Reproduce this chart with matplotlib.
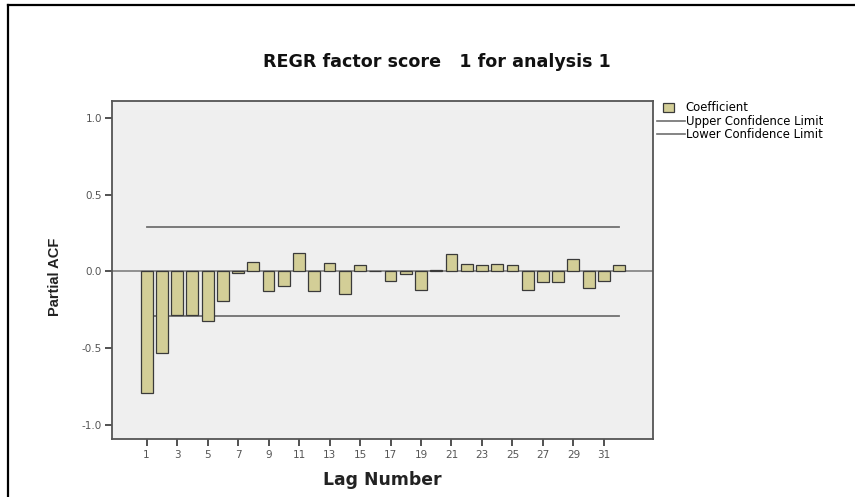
import numpy as np
import matplotlib
matplotlib.use("Agg")
import matplotlib.pyplot as plt
from matplotlib.patches import Patch
from matplotlib.lines import Line2D

# 数据
lags = list(range(1, 33))
pacf = [-0.795, -0.534, -0.284, -0.284, -0.326, -0.195, -0.013, 0.059,
        -0.130, -0.098, 0.122, -0.130, 0.057, -0.150, 0.044, 0.005,
        -0.061, -0.015, -0.124, 0.006, 0.115, 0.050, 0.040, 0.045,
        0.043, -0.121, -0.067, -0.068, 0.081, -0.106, -0.062, 0.042]
upper_limit = 0.29
lower_limit = -0.29
x_ticks = list(range(1, 32, 2))
y_ticks = [-1.0, -0.5, 0.0, 0.5, 1.0]
title = "REGR factor score   1 for analysis 1"

plt.rcParams['font.family'] = ['DejaVu Sans']

fig = plt.figure(figsize=(8.55, 4.97), dpi=100)
ax = fig.add_axes([0.1308, 0.1177, 0.6326, 0.6791])
ax.set_facecolor('#efefef')

ax.bar(lags, pacf, width=0.78, color='#d3ce97', edgecolor='#3a3a3a', linewidth=0.9, zorder=3)
ax.axhline(0, color='#808080', linewidth=1.2, zorder=2)
ax.plot([lags[0], lags[-1]], [upper_limit, upper_limit], color='#707070', linewidth=1.3, zorder=2)
ax.plot([lags[0], lags[-1]], [lower_limit, lower_limit], color='#707070', linewidth=1.3, zorder=2)

ax.set_xlim(-1.28, 34.2)
ax.set_ylim(-1.09, 1.11)
ax.set_xticks(x_ticks)
ax.set_yticks(y_ticks)
ax.set_yticklabels([f"{v:.1f}" for v in y_ticks])
ax.tick_params(axis='both', direction='out', length=5, width=1.2, color='#333333',
               labelsize=7.5, labelcolor='#555555')
ax.tick_params(axis='y', pad=2)
for s in ax.spines.values():
    s.set_color('#555555')
    s.set_linewidth(1.3)

ax.set_xlabel("Lag Number", fontsize=12.4, fontweight='bold', color='#222222', labelpad=8)
ax.set_ylabel("Partial ACF", fontsize=10.5, fontweight='bold', color='#222222',
              family=['Liberation Sans'])
ax.yaxis.set_label_coords(-0.092, 0.48)
fig.text(0.511, 0.876, title, ha='center', va='center', fontsize=12.6,
         fontweight='bold', color='#111111')

# 图例
leg1 = fig.legend([Patch(facecolor='#d3ce97', edgecolor='#3a3a3a', linewidth=0.9)],
                  ["Coefficient"], loc='upper left', bbox_to_anchor=(0.7754, 0.796),
                  frameon=False, fontsize=8.4, handlelength=0.95, handleheight=0.8,
                  handletextpad=1.0, borderaxespad=0, borderpad=0)
leg2 = fig.legend([Line2D([0], [0], color='#707070', linewidth=1.2),
                   Line2D([0], [0], color='#707070', linewidth=1.2)],
                  ["Upper Confidence Limit", "Lower Confidence Limit"],
                  loc='upper left', bbox_to_anchor=(0.768, 0.769),
                  frameon=False, fontsize=8.4, handlelength=2.4, handletextpad=0.15,
                  labelspacing=0.0, borderaxespad=0, borderpad=0)

# 左上边框
fig.add_artist(Line2D([0.0095, 0.0095], [0, 0.99], transform=fig.transFigure, color='black', linewidth=1.6))
fig.add_artist(Line2D([0.0095, 1.0], [0.99, 0.99], transform=fig.transFigure, color='black', linewidth=1.6))

fig.savefig("out.png", dpi=100)
